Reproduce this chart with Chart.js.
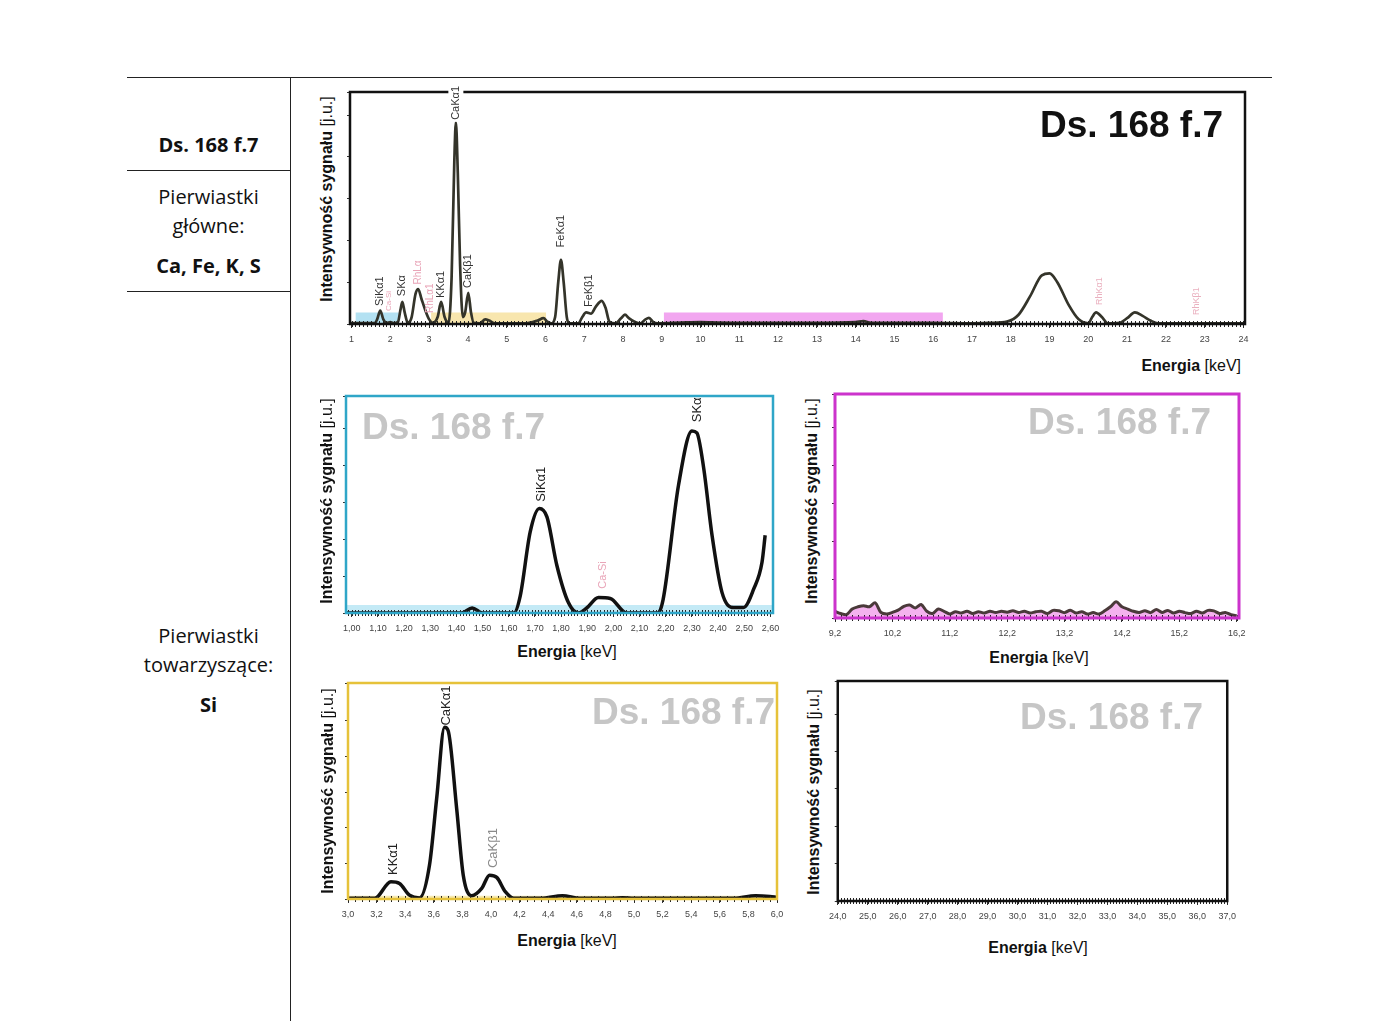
<!DOCTYPE html>
<html>
<head>
<meta charset="utf-8">
<script src="https://cdn.jsdelivr.net/npm/chart.js@4.4.0/dist/chart.umd.min.js"></script>
<style>
  body { margin: 0; width: 1400px; height: 1021px; position: relative; background: #fff; overflow: hidden; font-family: 'Liberation Sans', Arial, sans-serif; }
  canvas { position: absolute; }
  .ln { position: absolute; background: #222; }
  .cell { position: absolute; left: 127px; width: 163px; text-align: center; font-family: 'Open Sans', sans-serif; font-size: 20px; line-height: 24px; color: #111; }
  .yt { position: absolute; transform: translate(-50%, -50%) rotate(-90deg); font-size: 16px; white-space: nowrap; color: #111; }
  .xt { position: absolute; transform: translate(-50%, -50%); font-size: 16px; white-space: nowrap; color: #111; }
  .wm { position: absolute; transform: translateY(-50%); font-weight: bold; font-size: 37px; line-height: 1; white-space: nowrap; color: #c6c6c6; }
</style>
</head>
<body>
<!-- table lines -->
<div class="ln" style="left:127px;top:77px;width:1145px;height:1px"></div>
<div class="ln" style="left:290px;top:77px;width:1px;height:944px"></div>
<div class="ln" style="left:127px;top:170px;width:163px;height:1px"></div>
<div class="ln" style="left:127px;top:291px;width:163px;height:1px"></div>

<div class="cell" style="top:133px"><b>Ds. 168 f.7</b></div>
<div class="cell" style="top:185px">Pierwiastki</div>
<div class="cell" style="top:214px">główne:</div>
<div class="cell" style="top:254px"><b>Ca, Fe, K, S</b></div>
<div class="cell" style="top:624px">Pierwiastki</div>
<div class="cell" style="top:653px">towarzyszące:</div>
<div class="cell" style="top:693px"><b>Si</b></div>

<canvas id="cMain"></canvas>
<canvas id="cSi"></canvas>
<canvas id="cMag"></canvas>
<canvas id="cCa"></canvas>
<canvas id="cHigh"></canvas>

<!-- axis titles -->
<div class="yt" style="left:327px;top:199px"><b>Intensywność sygnału</b> [j.u.]</div>
<div class="yt" style="left:327px;top:501px"><b>Intensywność sygnału</b> [j.u.]</div>
<div class="yt" style="left:812px;top:501px"><b>Intensywność sygnału</b> [j.u.]</div>
<div class="yt" style="left:328px;top:791px"><b>Intensywność sygnału</b> [j.u.]</div>
<div class="yt" style="left:814px;top:792px"><b>Intensywność sygnału</b> [j.u.]</div>
<div class="xt" style="left:1241px;top:366px;transform:translate(-100%,-50%)"><b>Energia</b> [keV]</div>
<div class="xt" style="left:567px;top:652px"><b>Energia</b> [keV]</div>
<div class="xt" style="left:1039px;top:658px"><b>Energia</b> [keV]</div>
<div class="xt" style="left:567px;top:941px"><b>Energia</b> [keV]</div>
<div class="xt" style="left:1038px;top:948px"><b>Energia</b> [keV]</div>

<!-- sample watermarks -->
<div class="wm" style="left:1040px;top:124px;color:#111">Ds. 168 f.7</div>
<div class="wm" style="left:362px;top:426px">Ds. 168 f.7</div>
<div class="wm" style="left:1028px;top:421px">Ds. 168 f.7</div>
<div class="wm" style="left:592px;top:711px">Ds. 168 f.7</div>
<div class="wm" style="left:1020px;top:716px">Ds. 168 f.7</div>

<script>
// ---- full spectrum 1-24 keV ----
var mainE = [0.96, 1.6, 1.66, 1.74, 1.82, 1.9, 2.0, 2.1, 2.2, 2.26,
    2.31, 2.37, 2.45, 2.55, 2.65, 2.72, 2.8, 2.9, 3.0, 3.1,
    3.22, 3.31, 3.4, 3.5, 3.58, 3.65, 3.69, 3.74, 3.8, 3.87,
    3.93, 4.01, 4.08, 4.15, 4.3, 4.45, 4.55, 4.7, 5.5, 5.8,
    5.95, 6.05, 6.15, 6.25, 6.33, 6.4, 6.47, 6.55, 6.62, 6.85,
    6.95, 7.05, 7.18, 7.3, 7.45, 7.55, 7.65, 7.8, 7.95, 8.05,
    8.15, 8.3, 8.45, 8.58, 8.67, 8.78, 8.9, 9.5, 10.0, 10.5,
    11.0, 12.0, 13.0, 14.0, 14.2, 14.4, 15.0, 16.0, 17.0, 17.5,
    17.9, 18.2, 18.5, 18.8, 19.0, 19.2, 19.5, 19.75, 20.0, 20.1,
    20.2, 20.35, 20.5, 20.8, 21.0, 21.2, 21.4, 21.6, 21.8, 22.5,
    24.04];
var mainI = [0.4, 0.4, 2, 5.8, 2, 0.5, 0.8, 0.3, 1, 6,
    9.6, 5, 0.5, 3, 13, 15, 11, 6, 2, 0.5,
    3, 9.5, 3, 0.5, 20, 70, 87, 65, 25, 3,
    5, 13.4, 5, 0.5, 0.3, 2, 1.5, 0.3, 0.3, 1.5,
    2.5, 1, 0.3, 3, 18, 27.6, 18, 3, 0.3, 0.3,
    3, 5, 4.5, 7.5, 10, 7, 1, 0.3, 2.5, 4,
    2.5, 1, 0.3, 2, 2.6, 0.8, 0.3, 0.6, 0.8, 0.6,
    0.5, 0.5, 0.5, 0.8, 1.2, 0.5, 0.5, 0.5, 0.3, 0.5,
    1, 4, 12, 21, 21.8, 18, 8, 2, 0.3, 3,
    5, 3, 0.3, 0.5, 2.5, 5, 3.5, 1.5, 0.3, 0.3,
    0.3];
var mainTicks = [1, 2, 3, 4, 5, 6, 7, 8, 9, 10, 11, 12, 13, 14, 15, 16, 17, 18, 19, 20, 21, 22, 23, 24];
var bandStart = [1.1, 3.05, 9.05];
var bandEnd = [2.22, 6.02, 16.25];
var bandLevel = [5, 5, 5];
var bandColor = ['#b3e1f2', '#f8e6ae', '#f2a6f0'];
// [label, energy, lift, colour, size, white box]
var mainPeaks = [
    ['SiKα1', 1.74, 7.8, '#333', 11],
    ['Ca-Si', 1.95, 5.6, '#e9a5b8', 8],
    ['SKα', 2.31, 12, '#333', 11],
    ['RhLα', 2.72, 17, '#e9a5b8', 10],
    ['RhLα1', 3.02, 4.7, '#e9a5b8', 10],
    ['KKα1', 3.31, 11.2, '#333', 11],
    ['CaKα1', 3.69, 88, '#333', 11, true],
    ['CaKβ1', 4.01, 15.5, '#333', 11],
    ['FeKα1', 6.40, 33, '#333', 11],
    ['FeKβ1', 7.12, 7.3, '#333', 11],
    ['RhKα1', 20.3, 8.2, '#eab0bf', 9],
    ['RhKβ1', 22.8, 3.9, '#eab0bf', 9]
];

// ---- Si zoom 1.0-2.6 keV ----
var siE = [0.98, 1.42, 1.46, 1.50, 1.62, 1.644, 1.682, 1.717, 1.746, 1.784,
    1.828, 1.867, 1.898, 1.943, 1.988, 2.05, 2.17, 2.19, 2.249, 2.30,
    2.319, 2.345, 2.377, 2.415, 2.459, 2.497, 2.536, 2.568, 2.58];
var siI = [0, 0, 2.3, 0, 0, 7.9, 37.4, 48.2, 44.3, 21.9,
    4.8, 0, 2.3, 7.1, 6.7, 0, 0, 6.2, 59, 83.9,
    83, 66.8, 35.8, 9.5, 2.5, 2.5, 11, 23.4, 35.8];
var siTicks = [1.0, 1.1, 1.2, 1.3, 1.4, 1.5, 1.6, 1.7, 1.8, 1.9, 2.0, 2.1, 2.2, 2.3, 2.4, 2.5, 2.6];
var siPeaks = [
    ['SiKα1', 1.724, 51.3, '#222', 13],
    ['Ca-Si', 1.962, 11.2, '#e9a5b8', 11],
    ['SKα', 2.32, 87.9, '#222', 13]
];

// ---- 9.2-16.2 keV ----
var magE = [9.2, 9.3, 9.4, 9.5, 9.6, 9.7, 9.8, 9.9, 10.0, 10.1,
    10.2, 10.3, 10.4, 10.5, 10.6, 10.7, 10.8, 10.9, 11.0, 11.1,
    11.2, 11.3, 11.4, 11.5, 11.6, 11.7, 11.8, 11.9, 12.0, 12.1,
    12.2, 12.3, 12.4, 12.5, 12.6, 12.7, 12.8, 12.9, 13.0, 13.1,
    13.2, 13.3, 13.4, 13.5, 13.6, 13.7, 13.8, 13.9, 14.0, 14.1,
    14.2, 14.3, 14.4, 14.5, 14.6, 14.7, 14.8, 14.9, 15.0, 15.1,
    15.2, 15.3, 15.4, 15.5, 15.6, 15.7, 15.8, 15.9, 16.0, 16.1,
    16.2];
var magI = [3.0, 2.0, 1.5, 4.0, 5.0, 5.5, 5.0, 6.8, 2.5, 1.8,
    2.5, 3.5, 5.2, 5.8, 4.5, 6.0, 3.0, 2.0, 4.0, 3.0,
    1.8, 2.8, 2.2, 3.0, 2.0, 2.8, 2.2, 3.0, 2.5, 3.0,
    2.6, 3.2, 2.5, 3.0, 2.2, 2.8, 3.0, 2.0, 3.4, 3.2,
    2.4, 3.5, 2.2, 2.8, 1.8, 2.4, 1.8, 3.2, 5.0, 7.2,
    5.0, 4.0, 3.0, 2.5, 3.2, 2.4, 3.8, 2.5, 3.4, 2.2,
    3.0, 2.4, 2.0, 3.0, 2.2, 3.4, 3.2, 2.0, 2.5, 1.5,
    1.0];
var magTicks = [9.2, 10.2, 11.2, 12.2, 13.2, 14.2, 15.2, 16.2];

// ---- Ca/K zoom 3.0-6.0 keV ----
var caE = [3.0, 3.187, 3.30, 3.36, 3.43, 3.50, 3.57, 3.62, 3.675, 3.70,
    3.76, 3.806, 3.865, 3.935, 3.99, 4.04, 4.10, 4.16, 4.35, 4.5,
    4.62, 4.85, 4.92, 5.0, 5.7, 5.85, 5.95, 6.0];
var caI = [0.3, 0.3, 8, 7.2, 1.8, 0.5, 15.7, 46.5, 79.5, 78,
    41.8, 11, 1.5, 4.9, 11, 10, 3.4, 0.3, 0.3, 1.5,
    0.3, 0.3, 0.6, 0.3, 0.3, 1.5, 1.2, 0.8];
var caTicks = [3.0, 3.2, 3.4, 3.6, 3.8, 4.0, 4.2, 4.4, 4.6, 4.8, 5.0, 5.2, 5.4, 5.6, 5.8, 6.0];
var caPeaks = [
    ['KKα1', 3.316, 11.1, '#222', 13],
    ['CaKα1', 3.69, 80.3, '#222', 13],
    ['CaKβ1', 4.017, 14.3, '#8a8a8a', 13]
];

// ---- 24-37 keV (no signal) ----
var highTicks = [24, 25, 26, 27, 28, 29, 30, 31, 32, 33, 34, 35, 36, 37];

function pts(xs, ys) {
    return xs.map(function (x, i) { return {x: x, y: ys[i]}; });
}

var decor = {
    id: 'decor',
    afterDatasetsDraw: function (chart, args, o) {
        var ctx = chart.ctx, a = chart.chartArea, x = chart.scales.x, y = chart.scales.y;
        ctx.save();
        // dense ticks along the energy axis
        ctx.strokeStyle = '#222';
        ctx.lineWidth = 1;
        ctx.beginPath();
        var start = Math.ceil(x.min / o.minor - 1e-6);
        var end = Math.floor(x.max / o.minor + 1e-6);
        for (var k = start; k <= end; k++) {
            var px = Math.round(x.getPixelForValue(k * o.minor)) + 0.5;
            ctx.moveTo(px, a.bottom - 3);
            ctx.lineTo(px, a.bottom + 3);
        }
        ctx.stroke();
        // frame
        ctx.strokeStyle = o.frame;
        ctx.lineWidth = o.frameWidth;
        ctx.strokeRect(a.left, a.top, a.right - a.left, a.bottom - a.top);
        // peak names
        (o.peaks || []).forEach(function (p) {
            var lx = x.getPixelForValue(p[1]), ly = y.getPixelForValue(p[2]);
            ctx.save();
            ctx.translate(lx, ly);
            ctx.rotate(-Math.PI / 2);
            ctx.font = p[4] + 'px "Liberation Sans", Arial, sans-serif';
            ctx.textAlign = 'left';
            ctx.textBaseline = 'middle';
            if (p[5]) {
                var w = ctx.measureText(p[0]).width;
                ctx.fillStyle = '#fff';
                ctx.fillRect(-2, -p[4] / 2 - 2, w + 4, p[4] + 4);
            }
            ctx.fillStyle = p[3];
            ctx.fillText(p[0], 0, 0);
            ctx.restore();
        });
        ctx.restore();
    }
};

function spectrum(id, frame, xMin, xMax, ticks, dec, datasets, opts) {
    var padL = 10, padT = 12, padR = 14, xH = 22, yW = 3;
    var cv = document.getElementById(id);
    cv.style.left = (frame[0] - padL - yW) + 'px';
    cv.style.top = (frame[1] - padT) + 'px';
    cv.width = frame[2] - frame[0] + padL + yW + padR;
    cv.height = frame[3] - frame[1] + padT + xH;
    return new Chart(cv, {
        type: 'line',
        data: {datasets: datasets},
        options: {
            responsive: false,
            animation: false,
            layout: {padding: {left: padL, top: padT, right: padR, bottom: 0}},
            plugins: {legend: {display: false}, tooltip: {enabled: false}, decor: opts},
            elements: {point: {radius: 0}},
            scales: {
                x: {
                    type: 'linear', min: xMin, max: xMax,
                    afterBuildTicks: function (s) { s.ticks = ticks.map(function (v) { return {value: v}; }); },
                    afterFit: function (s) { s.height = xH; },
                    grid: {drawOnChartArea: false, color: '#333', tickLength: 4},
                    border: {display: false},
                    ticks: {
                        autoSkip: false, maxRotation: 0, padding: 6, color: '#444',
                        font: {size: 9, family: '"Liberation Sans", Arial, sans-serif'},
                        callback: function (v) { return v.toFixed(dec).replace('.', ','); }
                    }
                },
                y: {
                    min: 0, max: 100,
                    afterFit: function (s) { s.width = yW; },
                    grid: {drawOnChartArea: false, color: '#333', tickLength: 3},
                    border: {display: false},
                    ticks: {display: false, stepSize: opts.yStep}
                }
            }
        },
        plugins: [decor]
    });
}

function curve(xs, ys, color, width) {
    return {data: pts(xs, ys), borderColor: color, borderWidth: width, fill: false,
        cubicInterpolationMode: 'monotone', pointRadius: 0};
}
function band(x0, x1, level, color) {
    return {data: [{x: x0, y: level}, {x: x1, y: level}], borderWidth: 0, borderColor: 'rgba(0,0,0,0)',
        backgroundColor: color, fill: 'origin', pointRadius: 0};
}

var mainSets = [curve(mainE, mainI, '#34342a', 2.7)];
for (var b = 0; b < bandStart.length; b++) {
    mainSets.push(band(bandStart[b], bandEnd[b], bandLevel[b], bandColor[b]));
}
spectrum('cMain', [350, 92, 1245, 324], 0.96, 24.04, mainTicks, 0, mainSets,
    {frame: '#111', frameWidth: 2.5, minor: 0.1, yStep: 18, peaks: mainPeaks});

spectrum('cSi', [346, 396, 773, 613], 0.978, 2.61, siTicks, 2,
    [curve(siE, siI, '#111', 3.5), band(0.978, 2.61, 3.7, '#c4eaf6')],
    {frame: '#2fa6c8', frameWidth: 2.5, minor: 0.0125, yStep: 17, peaks: siPeaks});

var magSet = curve(magE, magI, '#4a3a3a', 3);
magSet.fill = 'origin';
magSet.backgroundColor = '#f4b2ee';
magSet.cubicInterpolationMode = 'default';
magSet.tension = 0.3;
spectrum('cMag', [835, 394, 1239, 618], 9.2, 16.24, magTicks, 1, [magSet],
    {frame: '#cc33cc', frameWidth: 3, minor: 0.1, yStep: 17, peaks: []});

spectrum('cCa', [348, 683, 777, 899], 3.0, 6.0, caTicks, 1,
    [curve(caE, caI, '#111', 3.5), band(3.0, 6.0, 1.5, '#f8eab0')],
    {frame: '#e6c23a', frameWidth: 2.5, minor: 0.05, yStep: 16.5, peaks: caPeaks});

spectrum('cHigh', [836, 681, 1228, 901], 24, 37, highTicks, 1, [],
    {frame: '#111', frameWidth: 2.5, minor: 0.1, yStep: 17, peaks: []});
</script>
</body>
</html>
